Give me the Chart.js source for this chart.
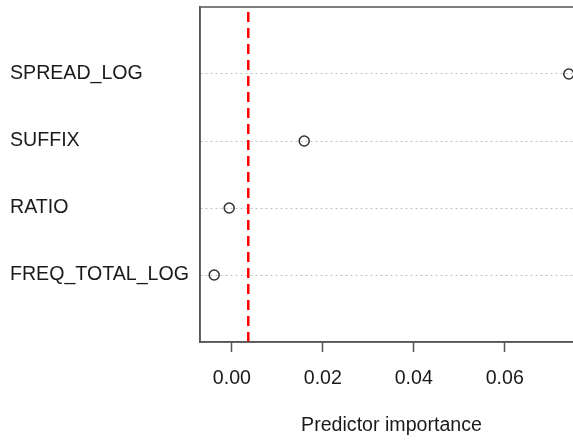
<!DOCTYPE html>
<html>
<head>
<meta charset="utf-8">
<script src="https://cdn.jsdelivr.net/npm/chart.js@4/dist/chart.umd.min.js"></script>
<style>
html,body{margin:0;padding:0;overflow:hidden;background:#fff;}
#wrap{width:600px;height:440px;}
</style>
</head>
<body>
<div id="wrap"><canvas id="c" width="600" height="440"></canvas></div>
<script>
const categories = ["FREQ_TOTAL_LOG", "RATIO", "SUFFIX", "SPREAD_LOG"];
const importance = [-0.0039, -0.0006, 0.0159, 0.0741];
const threshold = 0.0036;
const xTicks = [0.00, 0.02, 0.04, 0.06];
const xTickLabels = ["0.00", "0.02", "0.04", "0.06"];
const xTitle = "Predictor importance";

const FONT = "'Liberation Sans', Arial, sans-serif";
const FS = 19.6;
const points = categories.map((c, i) => ({x: importance[i], y: i + 1}));
const lo = Math.min(...importance), hi = Math.max(...importance);
const ext = (hi - lo) * 0.04;

const frame = {
  id: 'frame',
  afterDatasetsDraw(chart) {
    const {ctx, chartArea: a} = chart;
    ctx.save();
    ctx.strokeStyle = '#555';
    ctx.lineWidth = 1.5;
    ctx.beginPath();
    ctx.moveTo(a.left, a.bottom);
    ctx.lineTo(a.left, a.top);
    ctx.lineTo(a.right, a.top);
    ctx.lineTo(a.right, a.bottom);
    ctx.lineTo(a.left, a.bottom);
    ctx.stroke();
    ctx.restore();
  }
};

new Chart(document.getElementById('c'), {
  type: 'scatter',
  data: {
    datasets: [
      {
        type: 'line',
        data: [{x: threshold, y: 0}, {x: threshold, y: categories.length + 1}],
        borderColor: '#ff0000',
        borderWidth: 2.5,
        borderDash: [10, 6],
        pointRadius: 0,
        fill: false,
        order: 2
      },
      {
        data: points,
        pointStyle: 'circle',
        pointRadius: 5,
        pointBorderWidth: 1.5,
        borderColor: '#333',
        backgroundColor: 'rgba(0,0,0,0)',
        pointBackgroundColor: 'rgba(0,0,0,0)',
        pointBorderColor: '#333',
        clip: false,
        order: 1
      }
    ]
  },
  options: {
    responsive: false,
    animation: false,
    layout: {padding: {left: 10, top: 7, right: 17, bottom: 0}},
    plugins: {legend: {display: false}, tooltip: {enabled: false}},
    scales: {
      x: {
        type: 'linear',
        min: lo - ext,
        max: hi + ext,
        afterBuildTicks(scale) { scale.ticks = xTicks.map(v => ({value: v})); },
        afterFit(scale) { scale.height = 98; scale.paddingLeft = 0; scale.paddingRight = 0; },
        grid: {drawOnChartArea: false, drawTicks: true, tickLength: 10, tickColor: '#555', tickWidth: 1.5},
        border: {display: true, color: '#555', width: 1.5},
        ticks: {
          color: '#1a1a1a',
          font: {family: FONT, size: FS},
          padding: 15,
          maxRotation: 0,
          callback(v) { const i = xTicks.indexOf(v); return i >= 0 ? xTickLabels[i] : ''; }
        },
        title: {display: true, text: xTitle, color: '#1a1a1a', font: {family: FONT, size: FS}, padding: {top: 0, bottom: 3}}
      },
      y: {
        type: 'linear',
        min: 0,
        max: categories.length + 1,
        afterBuildTicks(scale) { scale.ticks = categories.map((c, i) => ({value: i + 1})); },
        afterFit(scale) { scale.width = 190; scale.paddingTop = 0; scale.paddingBottom = 0; },
        grid: {drawTicks: false, color: '#c0c0c0', lineWidth: 1},
        border: {display: true, color: '#555', width: 1.5, dash: [2, 3]},
        ticks: {
          crossAlign: 'far',
          color: '#1a1a1a',
          font: {family: FONT, size: FS},
          callback(v) { return categories[v - 1] || ''; }
        }
      }
    }
  },
  plugins: [frame]
});
</script>
</body>
</html>
